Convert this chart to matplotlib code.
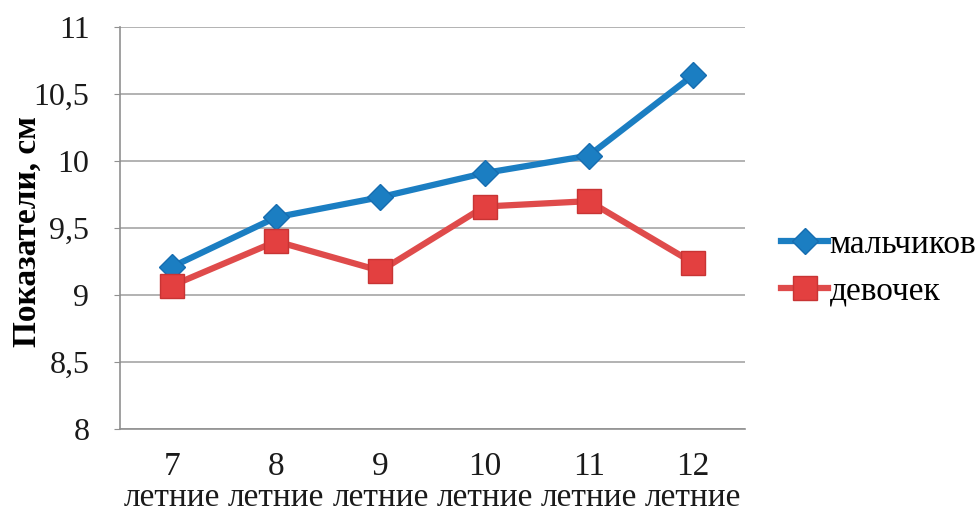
import matplotlib
matplotlib.use("Agg")
import matplotlib.pyplot as plt
from matplotlib.ticker import FuncFormatter

ages = ["7", "8", "9", "10", "11", "12"]
boys = [9.21, 9.58, 9.73, 9.91, 10.04, 10.64]
girls = [9.07, 9.40, 9.18, 9.66, 9.70, 9.24]

plt.rcParams['font.family'] = ['Liberation Serif', 'DejaVu Serif']

fig = plt.figure(figsize=(9.79, 5.18), dpi=100)
ax = fig.add_axes([0.1226, 0.172, 0.6385, 0.7759])

x = range(len(ages))
ax.plot(x, boys, color='#1b7ec2', lw=4.5, marker='D', ms=13,
        markeredgecolor='#166db0', label='мальчиков', zorder=3)
ax.plot(x, girls, color='#df4b4b', lw=4.5, marker='s', ms=17,
        markerfacecolor='#e34040', markeredgecolor='#c83434', label='девочек', zorder=3)

ax.set_xlim(-0.5, len(ages) - 0.5)
ax.set_ylim(8, 11)
ax.set_yticks([8, 8.5, 9, 9.5, 10, 10.5, 11])
ax.yaxis.set_major_formatter(FuncFormatter(lambda v, p: f"{v:g}".replace('.', ',')))
ax.set_xticks(list(x))
ax.set_xticklabels([a + "\nлетние" for a in ages], linespacing=1.05)
ax.tick_params(axis='x', length=0, labelsize=24, pad=16, labelcolor='#1a1a1a')
ax.tick_params(axis='y', length=4, color='#909090', labelsize=23, pad=18,
               labelcolor='#1a1a1a')
ax.grid(axis='y', color='#a6a6a6', lw=1.2)
ax.set_axisbelow(True)
for s in ['top', 'right']:
    ax.spines[s].set_visible(False)
for s in ['left', 'bottom']:
    ax.spines[s].set_color('#909090')
    ax.spines[s].set_linewidth(1.2)

ax.set_ylabel('Показатели, см', fontsize=24, fontweight='bold')
ax.yaxis.set_label_coords(-0.124, 0.49)

ax.legend(loc='center left', bbox_to_anchor=(1.058, 0.40), frameon=False,
          fontsize=24, handlelength=1.4, handletextpad=0.05, labelspacing=0.5,
          borderaxespad=0, borderpad=0)

fig.savefig('out.png', dpi=100)
